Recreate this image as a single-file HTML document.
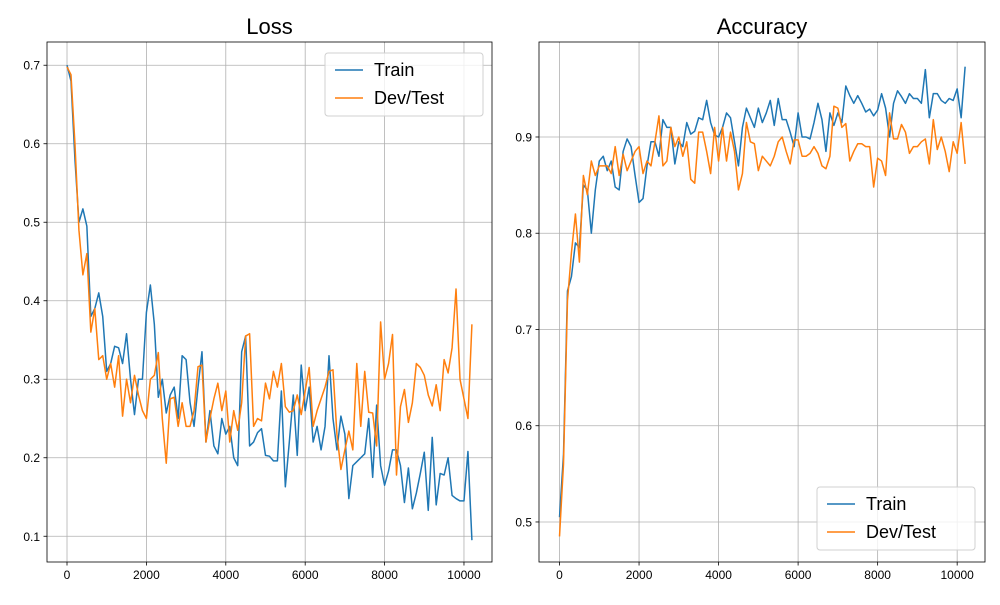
<!DOCTYPE html>
<html><head><meta charset="utf-8"><style>
body{margin:0;background:#fff;}
svg text{font-family:"Liberation Sans","DejaVu Sans",sans-serif;}
</style></head><body>
<svg id="chart" width="1000" height="600" xmlns="http://www.w3.org/2000/svg"></svg>
<script>
const steps = 100;
const lossTrain = [0.70,0.68,0.58,0.50,0.517,0.495,0.38,0.39,0.41,0.38,0.31,0.32,0.342,0.34,0.32,0.358,0.30,0.255,0.30,0.30,0.385,0.42,0.37,0.277,0.30,0.257,0.28,0.29,0.25,0.33,0.325,0.27,0.24,0.29,0.335,0.22,0.26,0.215,0.205,0.25,0.23,0.24,0.20,0.19,0.335,0.355,0.215,0.22,0.232,0.237,0.203,0.202,0.196,0.196,0.285,0.163,0.22,0.28,0.203,0.318,0.26,0.29,0.22,0.24,0.21,0.24,0.33,0.25,0.21,0.253,0.23,0.148,0.19,0.195,0.20,0.205,0.25,0.175,0.267,0.19,0.165,0.183,0.21,0.21,0.19,0.143,0.187,0.135,0.155,0.18,0.207,0.133,0.226,0.14,0.18,0.178,0.20,0.152,0.148,0.145,0.145,0.208,0.095];
const lossDev = [0.698,0.688,0.60,0.49,0.433,0.46,0.36,0.39,0.325,0.33,0.30,0.32,0.29,0.33,0.253,0.30,0.27,0.305,0.28,0.26,0.25,0.30,0.305,0.334,0.25,0.193,0.275,0.277,0.24,0.27,0.24,0.24,0.26,0.316,0.318,0.22,0.25,0.275,0.295,0.26,0.285,0.22,0.26,0.235,0.27,0.355,0.358,0.24,0.25,0.247,0.295,0.275,0.31,0.29,0.32,0.265,0.258,0.26,0.28,0.255,0.285,0.315,0.24,0.26,0.275,0.29,0.31,0.312,0.23,0.185,0.21,0.234,0.21,0.32,0.24,0.31,0.258,0.257,0.215,0.373,0.30,0.32,0.357,0.178,0.265,0.287,0.245,0.27,0.32,0.315,0.305,0.28,0.266,0.293,0.26,0.325,0.308,0.34,0.415,0.30,0.275,0.25,0.37];
const accTrain = [0.505,0.57,0.74,0.755,0.79,0.785,0.85,0.845,0.80,0.845,0.875,0.88,0.865,0.875,0.848,0.845,0.885,0.898,0.89,0.86,0.832,0.836,0.87,0.895,0.895,0.88,0.918,0.91,0.91,0.872,0.895,0.89,0.915,0.903,0.906,0.92,0.918,0.938,0.915,0.902,0.90,0.91,0.925,0.92,0.895,0.87,0.91,0.93,0.92,0.91,0.93,0.915,0.925,0.938,0.912,0.94,0.918,0.918,0.905,0.89,0.925,0.90,0.90,0.898,0.915,0.935,0.918,0.885,0.925,0.912,0.925,0.915,0.953,0.943,0.935,0.943,0.935,0.926,0.929,0.922,0.928,0.945,0.93,0.90,0.935,0.948,0.942,0.935,0.945,0.94,0.94,0.935,0.97,0.92,0.945,0.945,0.938,0.935,0.94,0.938,0.95,0.92,0.973];
const accDev = [0.485,0.56,0.73,0.78,0.82,0.77,0.86,0.84,0.875,0.86,0.87,0.87,0.87,0.862,0.89,0.86,0.882,0.865,0.875,0.885,0.89,0.862,0.875,0.87,0.895,0.922,0.87,0.875,0.91,0.89,0.9,0.88,0.895,0.856,0.852,0.905,0.905,0.885,0.862,0.91,0.875,0.91,0.875,0.905,0.885,0.845,0.862,0.915,0.895,0.893,0.865,0.88,0.875,0.87,0.88,0.895,0.9,0.885,0.872,0.897,0.897,0.88,0.88,0.883,0.89,0.883,0.87,0.867,0.88,0.932,0.93,0.91,0.914,0.875,0.885,0.893,0.893,0.89,0.89,0.848,0.878,0.875,0.86,0.925,0.898,0.898,0.913,0.905,0.883,0.89,0.89,0.895,0.898,0.872,0.918,0.887,0.9,0.885,0.864,0.895,0.883,0.915,0.872];
const xTicks = [0,2000,4000,6000,8000,10000];
const xTickLabels = ["0","2000","4000","6000","8000","10000"];
const lossTicks = [0.1,0.2,0.3,0.4,0.5,0.6,0.7];
const accTicks = [0.5,0.6,0.7,0.8,0.9];

const NS="http://www.w3.org/2000/svg";
const svg=document.getElementById('chart');
function mk(tag,attrs,parent){const e=document.createElementNS(NS,tag);for(const k in attrs)e.setAttribute(k,attrs[k]);(parent||svg).appendChild(e);return e;}

function panel(name,box,xDom,yDom,yTicks,series,title,legendPos){
  const g=mk('g',{});
  
  
  const sx=v=>box.x0+(v-xDom[0])/(xDom[1]-xDom[0])*(box.x1-box.x0);
  const sy=v=>box.y1-(v-yDom[0])/(yDom[1]-yDom[0])*(box.y1-box.y0);
  xTicks.forEach((t,i)=>{
    const x=sx(t);
    const l=mk('line',{x1:x,x2:x,y1:box.y0,y2:box.y1,stroke:'#b0b0b0','stroke-width':0.8},g);
    
    
    mk('line',{x1:x,x2:x,y1:box.y1,y2:box.y1+3.5,stroke:'#000','stroke-width':0.8},g);
    const tx=mk('text',{x:x,y:box.y1+17,'text-anchor':'middle','font-size':'12',fill:'#000'},g);
    tx.textContent=xTickLabels[i];
    
    
  });
  yTicks.forEach(t=>{
    const y=sy(t);
    const l=mk('line',{x1:box.x0,x2:box.x1,y1:y,y2:y,stroke:'#b0b0b0','stroke-width':0.8},g);
    
    
    mk('line',{x1:box.x0-3.5,x2:box.x0,y1:y,y2:y,stroke:'#000','stroke-width':0.8},g);
    const tx=mk('text',{x:box.x0-7,y:y+4.5,'text-anchor':'end','font-size':'12',fill:'#000'},g);
    tx.textContent=t.toFixed(1);
    
    
  });
  series.forEach(s=>{
    const pts=s.data.map((v,i)=>sx(i*steps).toFixed(2)+','+sy(v).toFixed(2)).join(' ');
    const p=mk('polyline',{points:pts,fill:'none',stroke:s.color,'stroke-width':1.5,'stroke-linejoin':'round'},g);
    
    
  });
  const frame=mk('rect',{x:box.x0,y:box.y0,width:box.x1-box.x0,height:box.y1-box.y0,fill:'none',stroke:'#000','stroke-width':0.8},g);
  
  
  const tt=mk('text',{x:(box.x0+box.x1)/2,y:34,'text-anchor':'middle','font-size':'22',fill:'#000'},g);
  tt.textContent=title;
  
  
  const lg=mk('g',{},g);
  
  
  mk('rect',{x:legendPos.x,y:legendPos.y,width:158,height:63,rx:3,fill:'#fff','fill-opacity':0.8,stroke:'#d0d0d0','stroke-width':1},lg);
  series.forEach((s,i)=>{
    const yy=legendPos.y+17+i*28;
    mk('line',{x1:legendPos.x+10,x2:legendPos.x+38,y1:yy,y2:yy,stroke:s.color,'stroke-width':1.5},lg);
    const t=mk('text',{x:legendPos.x+49,y:yy+6,'font-size':'18',fill:'#000'},lg);
    t.textContent=s.label;
    
    
  });
}
panel('loss',{x0:47,x1:492,y0:42,y1:562},[-504,10706],[0.0672,0.7296],lossTicks,
  [{key:'train',label:'Train',color:'#1f77b4',data:lossTrain},{key:'dev',label:'Dev/Test',color:'#ff7f0e',data:lossDev}],'Loss',{x:325,y:53});
panel('accuracy',{x0:539,x1:985,y0:42,y1:562},[-516,10700],[0.4584,0.9987],accTicks,
  [{key:'train',label:'Train',color:'#1f77b4',data:accTrain},{key:'dev',label:'Dev/Test',color:'#ff7f0e',data:accDev}],'Accuracy',{x:817,y:487});
</script>
</body></html>
